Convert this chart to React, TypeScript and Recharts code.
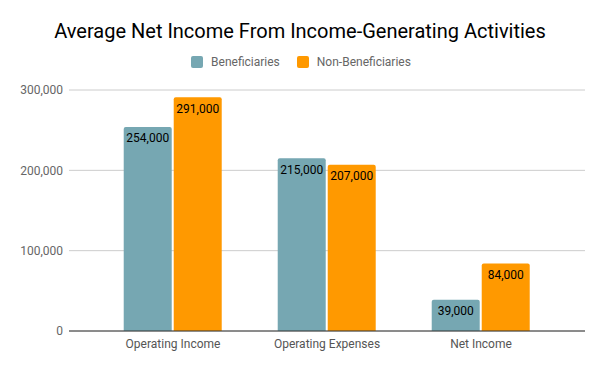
import { BarChart, Bar, XAxis, YAxis, CartesianGrid, LabelList } from 'recharts';

const categories = ['Operating Income', 'Operating Expenses', 'Net Income'];
const beneficiaries = [254000, 215000, 39000];
const nonBeneficiaries = [291000, 207000, 84000];
const yTicks = [0, 100000, 200000, 300000];

const TEAL = '#76a7b2';
const ORANGE = '#ff9900';
const FONT = 'Roboto, Arial, sans-serif';

const chartData = categories.map((name, i) => ({
  name,
  beneficiaries: beneficiaries[i],
  nonBeneficiaries: nonBeneficiaries[i],
}));

const fmt = (v: number) => v.toLocaleString('en-US');

export default function App() {
  return (
    <div style={{ position: 'absolute', left: 0, top: 0, width: 600, height: 371, background: '#fff' }}>
      <div
        style={{
          position: 'absolute',
          top: 19,
          left: 0,
          width: 600,
          textAlign: 'center',
          fontFamily: FONT,
          fontSize: 20,
          color: '#000',
        }}
      >
        Average Net Income From Income-Generating Activities
      </div>
      {/* legend */}
      <div
        style={{
          position: 'absolute',
          top: 55,
          left: 1,
          width: 600,
          display: 'flex',
          justifyContent: 'center',
          alignItems: 'center',
          fontFamily: FONT,
          fontSize: 12,
          color: '#666',
        }}
      >
        <span style={{ display: 'inline-block', width: 12, height: 12, background: TEAL, borderRadius: 2, marginRight: 8 }} />
        <span style={{ marginRight: 17 }}>Beneficiaries</span>
        <span style={{ display: 'inline-block', width: 12, height: 12, background: ORANGE, borderRadius: 2, marginRight: 8 }} />
        <span>Non-Beneficiaries</span>
      </div>
      <BarChart
        width={600}
        height={371}
        data={chartData}
        margin={{ top: 90, right: 15, bottom: 10, left: 8 }}
        barGap={2}
        barCategoryGap="18%"
      >
        <CartesianGrid vertical={false} stroke="#cccccc" />
        <XAxis
          dataKey="name"
          padding={{ left: 27, right: 27 }}
          axisLine={{ stroke: '#333333' }}
          tickLine={false}
          tickSize={0}
          tickMargin={8}
          height={30}
          tick={{ fill: '#555555', fontSize: 12, fontFamily: FONT }}
        />
        <YAxis
          domain={[0, 300000]}
          ticks={yTicks}
          tickFormatter={fmt}
          axisLine={false}
          tickLine={false}
          tickSize={0}
          tickMargin={6}
          width={61}
          tick={{ fill: '#666666', fontSize: 12, fontFamily: FONT }}
        />
        <Bar dataKey="beneficiaries" fill={TEAL} radius={[2, 2, 0, 0]} isAnimationActive={false}>
          <LabelList dataKey="beneficiaries" position="insideTop" offset={7} formatter={(v: any) => fmt(Number(v))} fill="#000" fontSize={12} fontFamily={FONT} />
        </Bar>
        <Bar dataKey="nonBeneficiaries" fill={ORANGE} radius={[2, 2, 0, 0]} isAnimationActive={false}>
          <LabelList dataKey="nonBeneficiaries" position="insideTop" offset={7} formatter={(v: any) => fmt(Number(v))} fill="#000" fontSize={12} fontFamily={FONT} />
        </Bar>
      </BarChart>
    </div>
  );
}
